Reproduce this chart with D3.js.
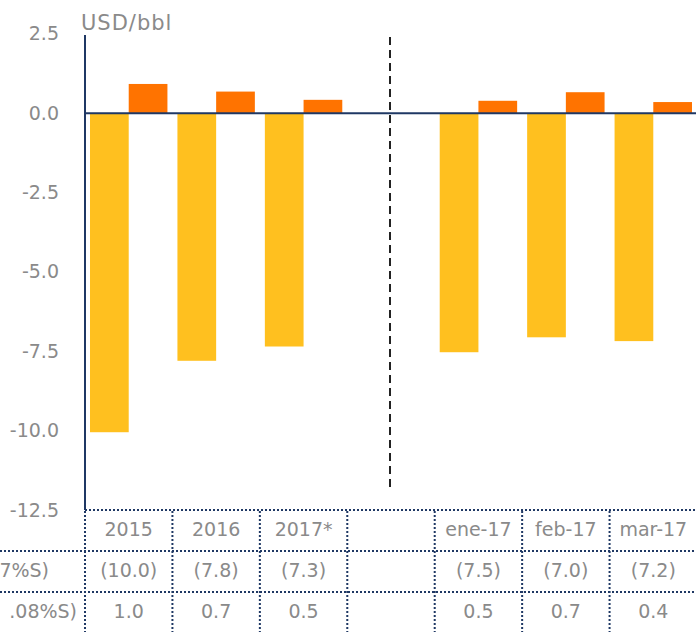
<!DOCTYPE html>
<html><head><meta charset="utf-8">
<script src="https://cdn.jsdelivr.net/npm/d3@7"></script>
<style>body{margin:0;background:#fff}svg{display:block}</style>
</head><body>
<svg id="c" width="696" height="632"></svg>
<script>
const categories = ["2015","2016","2017*","","ene-17","feb-17","mar-17"];
const seriesA = [-10.05, -7.8, -7.35, null, -7.53, -7.06, -7.18];   // yellow
const seriesB = [0.92, 0.68, 0.42, null, 0.39, 0.66, 0.35];           // orange
const rowA = ["(10.0)","(7.8)","(7.3)","","(7.5)","(7.0)","(7.2)"];
const rowB = ["1.0","0.7","0.5","","0.5","0.7","0.4"];
const rowLabels = ["7%S)",".08%S)"];
const yTicks = [2.5, 0, -2.5, -5, -7.5, -10, -12.5];

const svg = d3.select("#c");
const navy = "#1f3864", grey = "#8a8a8a";
const font = "'DejaVu Sans', sans-serif";
const fs = 19;

const y = d3.scaleLinear().domain([-12.5, 2.5]).range([510, 33.8]);
const x0 = d3.scaleBand().domain(d3.range(categories.length)).range([85, 697]);
const x1 = d3.scaleBand().domain(["a","b"]).range([5, x0.bandwidth() - 5]);

// y tick labels
const yAxis = d3.axisLeft(y).tickValues(yTicks).tickSize(0).tickPadding(0)
  .tickFormat(d => d.toFixed(1));
const ga = svg.append("g").attr("transform","translate(59,0)").call(yAxis);
ga.select(".domain").remove();
ga.selectAll("text").attr("font-family", font).attr("font-size", fs).attr("fill", grey);

svg.append("text").attr("x", 81).attr("y", 30).text("USD/bbl")
  .attr("font-family", font).attr("font-size", 21).attr("fill", grey)
  .attr("letter-spacing", 1);

// bars
const g = svg.append("g");
categories.forEach((c, i) => {
  if (seriesA[i] != null) {
    g.append("rect").attr("x", x0(i) + x1("a")).attr("width", x1.bandwidth())
      .attr("y", y(0)).attr("height", y(seriesA[i]) - y(0)).attr("fill", "#FFC01F");
  }
  if (seriesB[i] != null) {
    g.append("rect").attr("x", x0(i) + x1("b")).attr("width", x1.bandwidth())
      .attr("y", y(seriesB[i])).attr("height", y(0) - y(seriesB[i])).attr("fill", "#FF7300");
  }
});

// axis lines
svg.append("line").attr("x1", 85).attr("x2", 85).attr("y1", 35).attr("y2", 510)
  .attr("stroke", navy).attr("stroke-width", 2);
svg.append("line").attr("x1", 85).attr("x2", 696).attr("y1", y(0)).attr("y2", y(0))
  .attr("stroke", navy).attr("stroke-width", 2);

// dashed separator
const sepX = x0(3) + x0.bandwidth() / 2 - 1;
svg.append("line").attr("x1", sepX).attr("x2", sepX).attr("y1", 37).attr("y2", 492)
  .attr("stroke", "#222").attr("stroke-width", 2).attr("stroke-dasharray", "8,5");

// table
const rows = [551, 592];
const tbl = svg.append("g").attr("stroke", navy).attr("stroke-width", 2).attr("stroke-dasharray", "2,2");
tbl.append("line").attr("x1", 85).attr("x2", 696).attr("y1", 510).attr("y2", 510);
rows.forEach(r => tbl.append("line").attr("x1", 0).attr("x2", 696).attr("y1", r).attr("y2", r));
d3.range(categories.length).forEach(i => {
  tbl.append("line").attr("x1", x0(i)).attr("x2", x0(i)).attr("y1", 511).attr("y2", 632);
});

const txt = svg.append("g").attr("font-family", font).attr("font-size", fs).attr("fill", grey)
  .attr("text-anchor", "middle").attr("dominant-baseline", "central");
categories.forEach((c, i) => {
  const cx = x0(i) + x0.bandwidth() / 2;
  txt.append("text").attr("x", cx).attr("y", 529).text(c);
  txt.append("text").attr("x", cx).attr("y", 570).text(rowA[i]);
  txt.append("text").attr("x", cx).attr("y", 611).text(rowB[i]);
});
txt.append("text").attr("x", 49).attr("y", 570).attr("text-anchor", "end").text(rowLabels[0]);
txt.append("text").attr("x", 77).attr("y", 611).attr("text-anchor", "end").text(rowLabels[1]);
</script>
</body></html>
